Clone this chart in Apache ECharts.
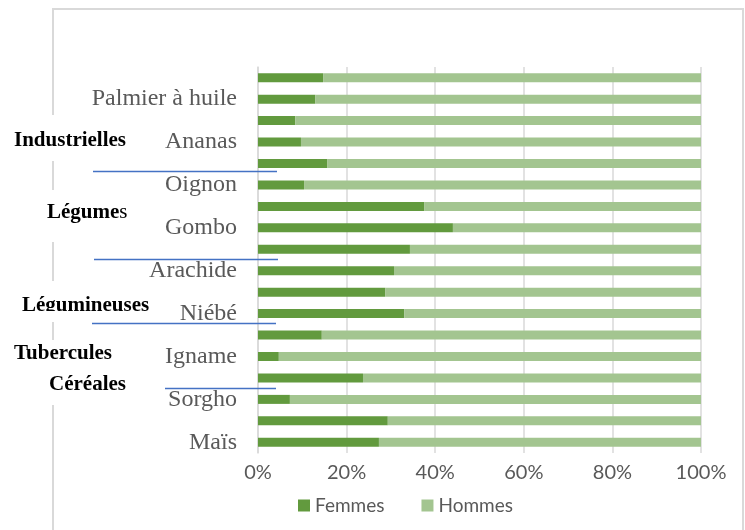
<!DOCTYPE html>
<html>
<head>
<meta charset="utf-8">
<script src="https://cdn.jsdelivr.net/npm/echarts@6/dist/echarts.min.js"></script>
<style>
  html, body { margin: 0; padding: 0; background: #fff; }
  #chart { width: 745px; height: 530px; }
</style>
</head>
<body>
<div id="chart"></div>
<script>
// bottom to top, every other bar has no label
const categories = ['Maïs', '', 'Sorgho', '', 'Igname', '', 'Niébé', '', 'Arachide', '',
  'Gombo', '', 'Oignon', '', 'Ananas', '', 'Palmier à huile', ''];
const femmes = [27.3, 29.3, 7.2, 23.7, 4.7, 14.4, 33.0, 28.7, 30.7, 34.3,
  44.0, 37.5, 10.4, 15.6, 9.7, 8.4, 12.9, 14.7];
const hommes = femmes.map(v => +(100 - v).toFixed(1));
const xTicks = [0, 20, 40, 60, 80, 100];

const groupLabels = [
  { text: 'Industrielles', x: 14, y: 141 },
  { text: 'Tubercules', x: 14, y: 354 },
  { text: 'Céréales', x: 49, y: 385 }
];

const chart = echarts.init(document.getElementById('chart'));

const serif = '"Liberation Serif", "Times New Roman", serif';
const sans = 'Lato, "Liberation Sans", sans-serif';
const blue = '#4472c4';

function blueLine(x1, x2, y) {
  return {
    type: 'line', z: 100,
    shape: { x1: x1, y1: y, x2: x2, y2: y },
    style: { stroke: blue, lineWidth: 1.5 }
  };
}

const graphics = [
  // outer frame
  { type: 'rect', z: 1, shape: { x: 53, y: 9, width: 690, height: 540 },
    style: { fill: 'none', stroke: '#d9d9d9', lineWidth: 2 } },
  // white text boxes covering the frame
  { type: 'rect', z: 2, shape: { x: 10, y: 115, width: 125, height: 46 }, style: { fill: '#fff' } },
  { type: 'rect', z: 2, shape: { x: 40, y: 190, width: 100, height: 52 }, style: { fill: '#fff' } },
  { type: 'rect', z: 2, shape: { x: 18, y: 281, width: 140, height: 41 }, style: { fill: '#fff' } },
  { type: 'rect', z: 2, shape: { x: 10, y: 340, width: 125, height: 65 }, style: { fill: '#fff' } },
  {
    type: 'text', z: 3, left: 47, top: 202,
    style: {
      text: '{b|Légume}{r|s}',
      rich: {
        b: { fontFamily: serif, fontWeight: 'bold', fontSize: 21, fill: '#000' },
        r: { fontFamily: serif, fontSize: 21, fill: '#000' }
      }
    }
  },
  { type: 'text', z: 3, left: 22, top: 295,
    style: { text: 'Légumineuses', fontFamily: serif, fontWeight: 'bold', fontSize: 21, fill: '#000' } },
  // clipped bottom of the Légumineuses box
  { type: 'rect', z: 4, shape: { x: 18, y: 311, width: 140, height: 11 }, style: { fill: '#fff' } },
  blueLine(93, 277, 171.5),
  blueLine(94, 278, 259.5),
  blueLine(92, 276, 323.5),
  blueLine(165, 276, 388.5)
];

groupLabels.forEach(g => {
  graphics.push({
    type: 'text', z: 3, left: g.x, top: g.y - 11,
    style: { text: g.text, fontFamily: serif, fontWeight: 'bold', fontSize: 21, fill: '#000' }
  });
});

const option = {
  animation: false,
  color: ['#629a3e', '#a3c590'],
  grid: { left: 258, right: 44, top: 67, bottom: 77 },
  legend: {
    left: 293, top: 491,
    itemWidth: 12, itemHeight: 12, itemGap: 37,
    icon: 'rect',
    textStyle: { color: '#595959', fontSize: 19, fontFamily: sans },
    data: ['Femmes', 'Hommes']
  },
  xAxis: {
    type: 'value',
    min: 0, max: 100, interval: 20,
    axisLine: { show: false },
    axisTick: { show: false },
    axisLabel: {
      color: '#595959', fontSize: 20, fontFamily: sans, margin: 10,
      formatter: v => (xTicks.indexOf(v) >= 0 ? v + '%' : '')
    },
    splitLine: { show: true, lineStyle: { color: '#d9d9d9', width: 1.5 } }
  },
  yAxis: {
    type: 'category',
    data: categories,
    axisLine: { show: true, lineStyle: { color: '#d9d9d9', width: 1.5 } },
    axisTick: { show: false },
    axisLabel: {
      interval: 0, color: '#595959', fontSize: 24, fontFamily: serif, margin: 21,
      padding: [4, 0, 0, 0]
    }
  },
  series: [
    {
      name: 'Femmes', type: 'bar', stack: 'total', barWidth: '42%',
      data: femmes
    },
    {
      name: 'Hommes', type: 'bar', stack: 'total', barWidth: '42%',
      data: hommes
    }
  ],
  graphic: graphics
};

chart.setOption(option);
</script>
</body>
</html>
